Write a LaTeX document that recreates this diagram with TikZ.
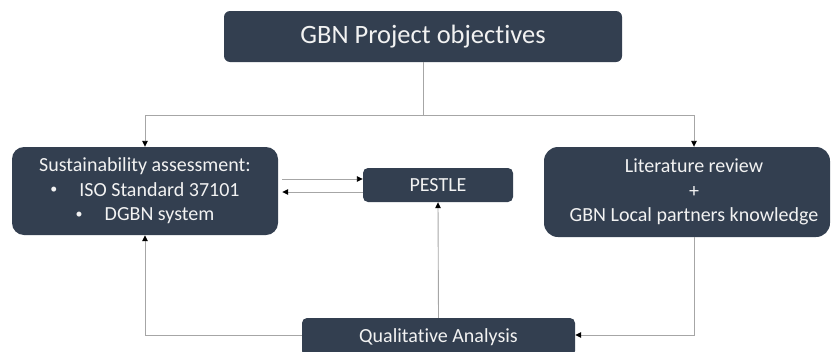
\documentclass[tikz,border=0pt]{standalone}
\usepackage{fontspec}
\usepackage{graphicx}
\setmainfont{Carlito}[Ligatures={NoCommon}]
\usetikzlibrary{arrows.meta}
\definecolor{boxfill}{HTML}{333F50}
\definecolor{boxtext}{HTML}{F2F2F2}
\definecolor{linkgray}{HTML}{A6A6A6}
\newcommand{\smallbullet}{\raisebox{0.12em}{\scalebox{0.7}{\textbullet}}}

\begin{document}
\begin{tikzpicture}[x=1pt,y=-1pt,
  box/.style={fill=boxfill, text=boxtext, inner sep=0pt, align=center,
    font=\fontsize{20}{24.5}\selectfont},
  link/.style={draw=linkgray, line width=0.9pt},
  arrow/.style={link, -{Triangle[length=6pt,width=5.5pt,color=black]}}]
  \useasboundingbox (0,0) rectangle (832,351);
  \clip (0,0) rectangle (832,351);

  % boxes
  \node[box, minimum width=398pt, minimum height=51pt, rounded corners=6pt,
        font=\fontsize{26.5}{30}\selectfont] (top) at (423,36.5) {GBN Project objectives};
  \node[box, minimum width=266pt, minimum height=88pt, rounded corners=12pt] (sus) at (145,191)
    {Sustainability assessment:\\
     \smallbullet\hspace{1.1em}ISO Standard 37101\\
     \smallbullet\hspace{1.1em}DGBN system};
  \node[box, minimum width=150pt, minimum height=34pt, rounded corners=5pt] (pestle) at (438,185) {PESTLE};
  \node[box, minimum width=286pt, minimum height=90pt, rounded corners=14pt] (lit) at (687,192) {};
  \node[box, fill=none] at ([xshift=7pt]lit.center)
    {Literature review\\ +\\ GBN Local partners knowledge};
  \node[box, minimum width=273pt, minimum height=38pt, rounded corners=5pt] (qual) at (438.5,337) {Qualitative Analysis};

  % connectors
  \draw[link] (top.south) -- ++(0,53) coordinate (hub);
  \draw[arrow] (hub) -| (sus.north);
  \draw[arrow] (hub) -| ([xshift=7pt]lit.north);
  \draw[arrow, shorten <=4pt] (sus.east |- 0,179) -- (pestle.west |- 0,179);
  \draw[arrow, shorten >=4pt] (pestle.west |- 0,192) -- (sus.east |- 0,192);
  \draw[arrow] (qual.west |- 0,335) -| (sus.south);
  \draw[arrow] (qual.north) -- (pestle.south);
  \draw[arrow] ([xshift=7pt]lit.south) |- (qual.east |- 0,335);
\end{tikzpicture}
\end{document}
